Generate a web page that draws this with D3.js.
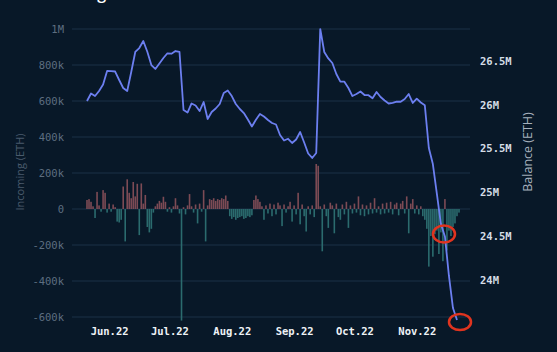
<!DOCTYPE html>
<html lang="en">
<head>
<meta charset="UTF-8">
<title>Incoming vs Balance</title>
<script src="https://d3js.org/d3.v7.min.js"></script>
<style>
    body { margin: 0; background: #081828; }
    svg { display: block; }
    .grid line { stroke: #1b3047; stroke-width: 1; }
    .axis path { display: none; }
    .left text { fill: #5d6e80; font-family: "DejaVu Sans Mono", monospace; font-size: 10.5px; }
    .right text { fill: #d5dde6; font-family: "DejaVu Sans Mono", monospace; font-size: 10.5px; font-weight: bold; }
    .bottom text { fill: #eef2f6; font-family: "DejaVu Sans Mono", monospace; font-size: 10.5px; font-weight: bold; }
</style>
</head>
<body>
<script>

// daily net flows (k ETH), starting 2022-05-21
const flowStart = "2022-05-21";
const flows = [
    50, 55, 40, 15, -50, 95, 20, -15, 105, 90,
    -20, 30, -15, 25, 10, -70, -75, -60, 125, -180,
    165, 90, 60, 150, 70, 140, -145, 142, 30, 78,
    -100, -130, -110, -20, 15, 30, 45, 35, 68, 40,
    -15, 10, -20, 15, 60, 20, -25, -620, 10, -30,
    20, 83, 15, -20, 25, -80, 30, -15, 105, -180,
    20, 55, 50, 60, 45, 55, 50, 60, 55, 75,
    45, -40, -55, -45, -60, -50, -45, -40, -55, -50,
    -40, -45, -35, 50, 75, 55, 40, 15, -60, 20,
    -25, 30, -40, 25, -30, 35, 20, -95, 25, -20,
    15, 40, -70, 20, -30, 90, -85, 25, -40, -125,
    15, -30, 20, -45, 250, 240, 15, -235, 25, -40,
    -105, 35, 20, -135, 30, -45, -60, 25, -30, 40,
    -105, 20, -25, 30, -20, 70, -35, 25, -40, 20,
    -30, 35, -25, 60, -20, 15, -30, 30, -25, 35,
    -20, 40, -30, 25, 35, -35, 30, 45, -25, 70,
    -135, 30, 55, -25, 20, -30, 15, -40, -60, -110,
    -320, -150, -265, -140, -120, -250, -130, -290, 55, -230,
    -120, -150, -100, -80, -40, -20
];

// balance (M ETH), one reading every 2 days from 2022-05-21
const balanceStart = "2022-05-21";
const balance = [
    26.043, 26.129, 26.100, 26.158, 26.232, 26.386, 26.384, 26.380, 26.283, 26.192,
    26.158, 26.374, 26.603, 26.648, 26.728, 26.606, 26.454, 26.409, 26.471, 26.534,
    26.588, 26.583, 26.614, 26.603, 25.941, 25.912, 26.015, 25.992, 25.929, 26.032,
    25.838, 25.918, 25.958, 26.009, 26.135, 26.163, 26.100, 26.009, 25.952, 25.906,
    25.832, 25.752, 25.829, 25.895, 25.866, 25.826, 25.792, 25.775, 25.655, 25.592,
    25.612, 25.564, 25.604, 25.689, 25.570, 25.444, 25.393, 25.450, 26.865, 26.603,
    26.529, 26.477, 26.352, 26.264, 26.264, 26.192, 26.100, 26.123, 26.152, 26.112,
    26.110, 26.075, 26.146, 26.089, 26.049, 26.015, 26.021, 26.035, 26.035, 26.066,
    26.123, 26.021, 26.070, 26.026, 25.994, 25.507, 25.324, 24.982, 24.639, 24.497,
    24.046, 23.680, 23.543
];

const incomingTicks = [-600, -400, -200, 0, 200, 400, 600, 800, 1000];
const balanceTicks = [24, 24.5, 25, 25.5, 26, 26.5];
const monthTicks = ["2022-06-01", "2022-07-01", "2022-08-01", "2022-09-01", "2022-10-01", "2022-11-01"];

const width = 557, height = 352;
const parse = d3.timeParse("%Y-%m-%d");

const flowData = flows.map((v, i) => ({ date: d3.timeDay.offset(parse(flowStart), i), value: v }));
const balanceData = balance.map((v, i) => ({ date: d3.timeDay.offset(parse(balanceStart), i * 2), value: v }));

const svg = d3.select("body").append("svg")
    .attr("width", width)
    .attr("height", height);

svg.append("rect").attr("width", width).attr("height", height).attr("fill", "#081828");

// cut-off title at the very top
svg.append("text")
    .attr("x", 42).attr("y", -1)
    .attr("fill", "#ffffff")
    .attr("font-family", "Open Sans, sans-serif")
    .attr("font-size", 16)
    .attr("font-weight", 600)
    .text("Exchange Balance");

const x = d3.scaleTime()
    .domain([parse("2022-05-21"), parse("2022-11-22")])
    .range([87, 459]);

const yL = d3.scaleLinear().domain([-600, 1000]).range([317, 29]);
const yR = d3.scaleLinear().domain([24, 26.5]).range([280, 61]);

// gridlines
svg.append("g").attr("class", "grid")
    .selectAll("line")
    .data(incomingTicks)
    .join("line")
    .attr("x1", 72).attr("x2", 470)
    .attr("y1", d => yL(d)).attr("y2", d => yL(d));

// bars
const barW = 1.6;
svg.append("g")
    .selectAll("rect")
    .data(flowData)
    .join("rect")
    .attr("x", d => x(d.date) - barW / 2)
    .attr("width", barW)
    .attr("y", d => d.value >= 0 ? yL(d.value) : yL(0))
    .attr("height", d => Math.abs(yL(d.value) - yL(0)))
    .attr("fill", d => d.value >= 0 ? "#7d4b55" : "#2b6b6e");

// balance line
const line = d3.line()
    .x(d => x(d.date))
    .y(d => yR(d.value));

svg.append("path")
    .datum(balanceData)
    .attr("fill", "none")
    .attr("stroke", "#6c7ff0")
    .attr("stroke-width", 1.8)
    .attr("stroke-linejoin", "round")
    .attr("d", line);

// axes
svg.append("g").attr("class", "axis left")
    .attr("transform", "translate(68,0)")
    .call(d3.axisLeft(yL).tickValues(incomingTicks).tickSize(0).tickPadding(4)
        .tickFormat(d => d === 0 ? "0" : d === 1000 ? "1M" : d + "k"));

svg.append("g").attr("class", "axis right")
    .attr("transform", "translate(478,0)")
    .call(d3.axisRight(yR).tickValues(balanceTicks).tickSize(0).tickPadding(2)
        .tickFormat(d => d + "M"));

svg.append("g").attr("class", "axis bottom")
    .attr("transform", "translate(0,317)")
    .call(d3.axisBottom(x).tickValues(monthTicks.map(parse)).tickSize(0).tickPadding(11)
        .tickFormat(d3.timeFormat("%b.%y")));

// axis titles
svg.append("text")
    .attr("transform", "translate(24,172) rotate(-90)")
    .attr("text-anchor", "middle")
    .attr("fill", "#4a5b6d")
    .attr("font-family", "Open Sans, sans-serif")
    .attr("font-size", 11)
    .text("Incoming (ETH)");

svg.append("text")
    .attr("transform", "translate(532,152) rotate(-90)")
    .attr("text-anchor", "middle")
    .attr("fill", "#a5b0bc")
    .attr("font-family", "Open Sans, sans-serif")
    .attr("font-size", 12.5)
    .text("Balance (ETH)");

// red highlight rings
const rings = [
    { cx: 444, cy: 234, rx: 11, ry: 8.5 },
    { cx: 460, cy: 322, rx: 11, ry: 8 }
];
svg.append("g")
    .selectAll("ellipse")
    .data(rings)
    .join("ellipse")
    .attr("cx", d => d.cx).attr("cy", d => d.cy)
    .attr("rx", d => d.rx).attr("ry", d => d.ry)
    .attr("fill", "none")
    .attr("stroke", "#e0341f")
    .attr("stroke-width", 2.5);

</script>
</body>
</html>
